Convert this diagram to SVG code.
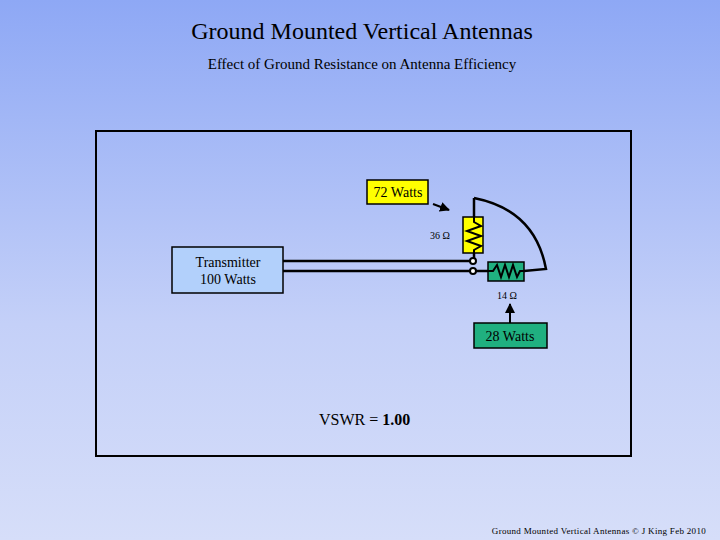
<svg xmlns="http://www.w3.org/2000/svg" width="720" height="540" viewBox="0 0 720 540">
<defs>
<linearGradient id="bg" x1="0" y1="0" x2="0" y2="1">
<stop offset="0" stop-color="#8ea8f5"/><stop offset="0.6" stop-color="#c4d0f8"/><stop offset="1" stop-color="#d6def9"/>
</linearGradient>
<marker id="ah" viewBox="0 0 10 10" refX="9" refY="5" markerWidth="5" markerHeight="5" orient="auto"><path d="M0,0L10,5L0,10z" fill="#000"/></marker>
<style>
text{font-family:"Liberation Serif",serif;fill:#000}
.w{stroke:#000;stroke-width:2.5;fill:none}
.box{stroke:#000;stroke-width:1.5}
</style>
</defs>
<rect width="720" height="540" fill="url(#bg)"/>
<text x="362" y="39" font-size="24" text-anchor="middle" fill="#000033">Ground Mounted Vertical Antennas</text>
<text x="362" y="69" font-size="15" text-anchor="middle" fill="#000033">Effect of Ground Resistance on Antenna Efficiency</text>
<rect x="96" y="131" width="535" height="325" fill="none" stroke="#000" stroke-width="2"/>
<g id="connectors">
<line class="w" x1="283" y1="261" x2="473" y2="261"/>
<line class="w" x1="283" y1="271" x2="488" y2="271"/>
<line class="w" x1="474" y1="253" x2="474" y2="261"/>
<polyline class="w" points="474,217 474,198"/>
<path class="w" d="M474,198 Q535,210 546,269 L524,271"/>
<line stroke="#000" stroke-width="2" x1="433" y1="204" x2="449" y2="210" marker-end="url(#ah)"/>
<line stroke="#000" stroke-width="2" x1="510" y1="323" x2="510" y2="304" marker-end="url(#ah)"/>
</g>
<g id="transmitter">
<rect class="box" x="172" y="247" width="111" height="46" fill="#b2d0fb"/>
<text x="228" y="267" font-size="14" text-anchor="middle">Transmitter</text>
<text x="228" y="284" font-size="14" text-anchor="middle">100 Watts</text>
</g>
<g id="w72">
<rect class="box" x="367" y="180" width="61" height="24" fill="#ffff00"/>
<text x="398" y="197" font-size="14" text-anchor="middle">72 Watts</text>
</g>
<g id="r36">
<rect class="box" x="463" y="217" width="20" height="36" fill="#ffff00"/>
<polyline points="474,217 474,222 481,226 467,231 481,236 467,241 481,246 474,250 474,253" fill="none" stroke="#000" stroke-width="2"/>
<text x="440" y="239" font-size="10" text-anchor="middle">36 Ω</text>
</g>
<g id="r14">
<rect class="box" x="488" y="262" width="36" height="19" fill="#20b080"/>
<polyline points="488,271 493,271 497,265 501,277 505,265 509,277 513,265 517,277 520,271 524,271" fill="none" stroke="#000" stroke-width="2"/>
<text x="507" y="299" font-size="10" text-anchor="middle">14 Ω</text>
</g>
<g id="dots">
<circle cx="473" cy="261" r="3" fill="#fff" stroke="#000" stroke-width="2"/>
<circle cx="473" cy="271" r="3" fill="#fff" stroke="#000" stroke-width="2"/>
</g>
<g id="w28">
<rect class="box" x="474" y="323" width="73" height="25" fill="#20b080"/>
<text x="510" y="341" font-size="14" text-anchor="middle">28 Watts</text>
</g>
<text x="319" y="425" font-size="16">VSWR =  <tspan font-weight="bold">1.00</tspan></text>
<text x="706" y="534" font-size="9" text-anchor="end" letter-spacing="0.3">Ground Mounted Vertical Antennas © J King  Feb 2010</text>
</svg>
